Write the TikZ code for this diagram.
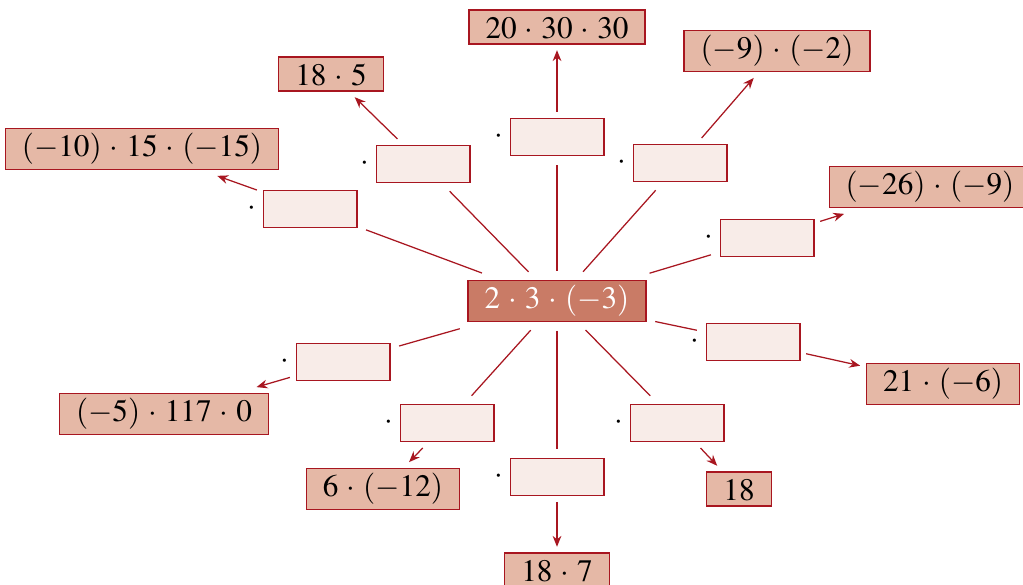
\documentclass[tikz,border=0pt]{standalone}
\usepackage{amsmath}
\usepackage{mathptmx}
\usepackage{tikz}
\usetikzlibrary{arrows.meta}

\definecolor{spokered}{RGB}{168,22,32}
\definecolor{hubfill}{RGB}{201,123,102}
\definecolor{termfill}{RGB}{229,184,166}
\definecolor{slotfill}{RGB}{248,236,232}

\AtBeginDocument{\medmuskip=4.6mu}

\begin{document}
\begin{tikzpicture}[
  x=0.32pt,y=-0.32pt,
  hub/.style={draw=spokered,fill=hubfill,text=white,inner xsep=5.3pt,inner ysep=1.6pt,text height=7.5pt,outer sep=2pt},
  term/.style={draw=spokered,fill=termfill,inner xsep=5.3pt,inner ysep=1.6pt,text height=7.5pt,outer sep=2pt},
  slot/.style={draw=spokered,fill=slotfill,minimum width=30pt,minimum height=12pt,inner sep=0pt,outer sep=2pt,
    label={[inner sep=0pt]left:$\cdot$}},
  spoke/.style={draw=spokered,shorten <=1pt,shorten >=1pt},
  arr/.style={draw=spokered,-{Stealth[length=3.5pt,width=2.8pt]}}
]
\useasboundingbox (0,0) rectangle (1023,585);

% centre
\node[hub] (hub) at (557,301) {$2\cdot 3\cdot(-3)$};

% empty boxes round the centre
\node[slot] (s1) at (557,137) {};
\node[slot] (s2) at (680,163) {};
\node[slot] (s3) at (767,238) {};
\node[slot] (s4) at (753,342) {};
\node[slot] (s5) at (677,423) {};
\node[slot] (s6) at (557,477) {};
\node[slot] (s7) at (447,423) {};
\node[slot] (s8) at (343,362) {};
\node[slot] (s9) at (310,209) {};
\node[slot] (s10) at (423,164) {};

% products
\node[term] (t1) at (557,27) {$20\cdot 30\cdot 30$};
\node[term] (t2) at (777,51) {$(-9)\cdot(-2)$};
\node[term] (t3) at (930,187) {$(-26)\cdot(-9)$};
\node[term] (t4) at (943,384) {$21\cdot(-6)$};
\node[term] (t5) at (739,489) {$18$};
\node[term] (t6) at (557,570) {$18\cdot 7$};
\node[term] (t7) at (383,489) {$6\cdot(-12)$};
\node[term] (t8) at (164,414) {$(-5)\cdot 117\cdot 0$};
\node[term] (t9) at (142,149) {$(-10)\cdot 15\cdot(-15)$};
\node[term] (t10) at (331,74) {$18\cdot 5$};

% connectors
\foreach \i in {1,...,10} {
  \draw[spoke] (hub) -- (s\i);
  \draw[arr] (s\i) -- (t\i);
}
\end{tikzpicture}
\end{document}
